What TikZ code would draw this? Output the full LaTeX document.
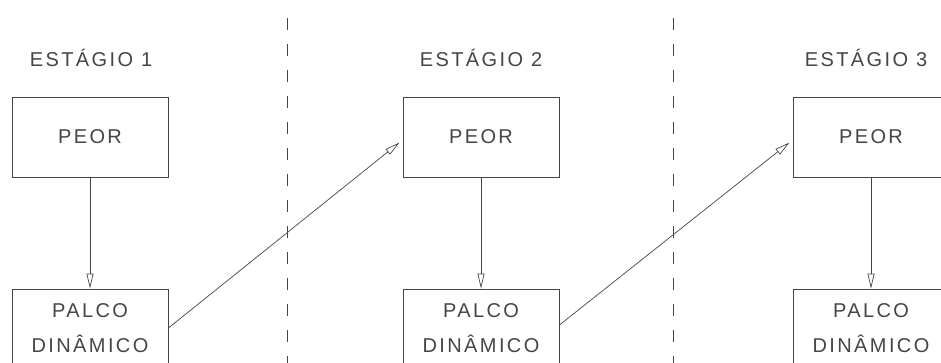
\documentclass[tikz,border=0pt]{standalone}
\usepackage{fontspec}
\setmainfont{Liberation Sans}[LetterSpace=12]
\usetikzlibrary{arrows.meta}
\definecolor{ink}{gray}{0.27}
\tikzset{
  x=1pt, y=-1pt,
  stagebox/.style={draw=ink, line width=0.8pt, minimum width=156pt, align=center,
    text=ink, font=\fontsize{20}{35}\selectfont, inner sep=0pt},
  peorbox/.style={stagebox, minimum height=80pt},
  palcobox/.style={stagebox, minimum height=79pt},
  stagelabel/.style={text=ink, font=\fontsize{20}{24}\selectfont, inner sep=0pt},
  conn/.style={draw=ink, line width=0.7pt, -{Triangle[open, length=15pt, width=7pt]}},
  divider/.style={draw=ink, line width=0.8pt, dash pattern=on 12pt off 14pt}
}
\begin{document}
\begin{tikzpicture}
\useasboundingbox (0,0) rectangle (941,362);
% labels
\node[stagelabel] (l1) at (91,58) {ESTÁGIO 1};
\node[stagelabel] (l2) at (481,58) {ESTÁGIO 2};
\node[stagelabel] (l3) at (866,58) {ESTÁGIO 3};
% boxes
\node[peorbox] (p1) at (90,137) {PEOR};
\node[palcobox] (d1) at (90,328.5) {PALCO\\DINÂMICO};
\node[peorbox] (p2) at (481,137) {PEOR};
\node[palcobox] (d2) at (481,328.5) {PALCO\\DINÂMICO};
\node[peorbox] (p3) at (871,137) {PEOR};
\node[palcobox] (d3) at (871,328.5) {PALCO\\DINÂMICO};
% dividers
\coordinate (v1t) at (287,18);
\coordinate (v1b) at (287,370);
\coordinate (v2t) at (673,18);
\coordinate (v2b) at (673,370);
\draw[divider] (v1t) -- (v1b);
\draw[divider] (v2t) -- (v2b);
% connectors
\draw[conn] (p1) -- (d1);
\draw[conn] (p2) -- (d2);
\draw[conn] (p3) -- (d3);
\draw[conn, shorten >=4pt] (d1.east |- 0,328) -- (p2.west |- 0,140);
\draw[conn, shorten >=4pt] (d2.east |- 0,325) -- (p3.west |- 0,140);
\end{tikzpicture}
\end{document}
